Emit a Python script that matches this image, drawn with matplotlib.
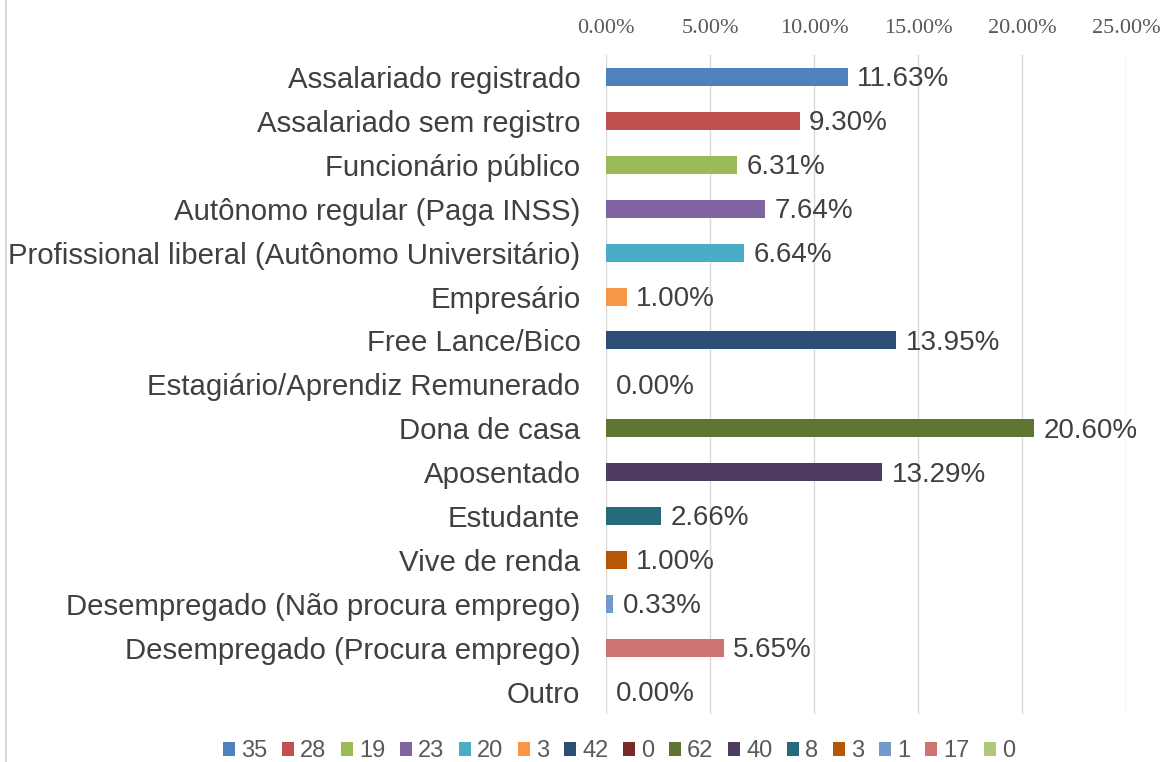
import matplotlib.pyplot as plt
from matplotlib.patches import Patch
from matplotlib.lines import Line2D

categorias = ['Assalariado registrado', 'Assalariado sem registro', 'Funcionário público',
              'Autônomo regular (Paga INSS)', 'Profissional liberal (Autônomo Universitário)',
              'Empresário', 'Free Lance/Bico', 'Estagiário/Aprendiz Remunerado', 'Dona de casa',
              'Aposentado', 'Estudante', 'Vive de renda', 'Desempregado (Não procura emprego)',
              'Desempregado (Procura emprego)', 'Outro']
percentuais = [11.63, 9.30, 6.31, 7.64, 6.64, 1.00, 13.95, 0.00, 20.60, 13.29, 2.66, 1.00, 0.33, 5.65, 0.00]
contagens = [35, 28, 19, 23, 20, 3, 42, 0, 62, 40, 8, 3, 1, 17, 0]
cores = ['#4F81BD', '#C0504D', '#9BBB59', '#8064A2', '#4BACC6', '#F79646', '#2C4D75', '#772C2A',
         '#5F7530', '#4D3B62', '#276A7C', '#B65708', '#729ACA', '#CD7371', '#AFC97A']
ticks = [0, 5, 10, 15, 20, 25]

fig = plt.figure(figsize=(11.68, 7.62), dpi=100)
ax = fig.add_axes([0.519, 0.063, 0.445, 0.865])

y = list(range(len(categorias)))
ax.barh(y, percentuais, height=0.41, color=cores, zorder=3)
for yi, v in zip(y, percentuais):
    ax.text(v + 0.45, yi + 0.05, f'{v:.2f}%', va='center', ha='left', fontsize=20,
            family='Liberation Sans', color='#404040')

ax.set_ylim(len(categorias) - 0.5, -0.5)
ax.set_xlim(0, 25)
ax.set_yticks(y)
ax.set_yticklabels(categorias, fontsize=21.2, family='Liberation Sans', color='#404040')
ax.set_xticks(ticks)
ax.set_xticklabels([f'{t:.2f}%' for t in ticks], fontsize=16, family='Liberation Serif', color='#595959')
ax.xaxis.tick_top()
ax.tick_params(axis='x', length=0, pad=12)
ax.tick_params(axis='y', length=0, pad=18.5)
ax.grid(axis='x', color='#D9D9D9', linewidth=1, zorder=0)
for s in ax.spines.values():
    s.set_visible(False)

handles = [Patch(facecolor=c, edgecolor='none') for c in cores]
leg = fig.legend(handles, [str(c) for c in contagens], loc='center', ncol=len(contagens),
                 bbox_to_anchor=(0.53, 0.014), frameon=False, handlelength=0.52, handleheight=0.52,
                 handletextpad=0.25, columnspacing=0.62, borderpad=0,
                 prop={'family': 'Liberation Sans', 'size': 17})
for t in leg.get_texts():
    t.set_color('#595959')

fig.add_artist(Line2D([0.005, 0.005], [0, 1], color='#D9D9D9', linewidth=1.5, transform=fig.transFigure))

fig.savefig('out.png', dpi=100)
